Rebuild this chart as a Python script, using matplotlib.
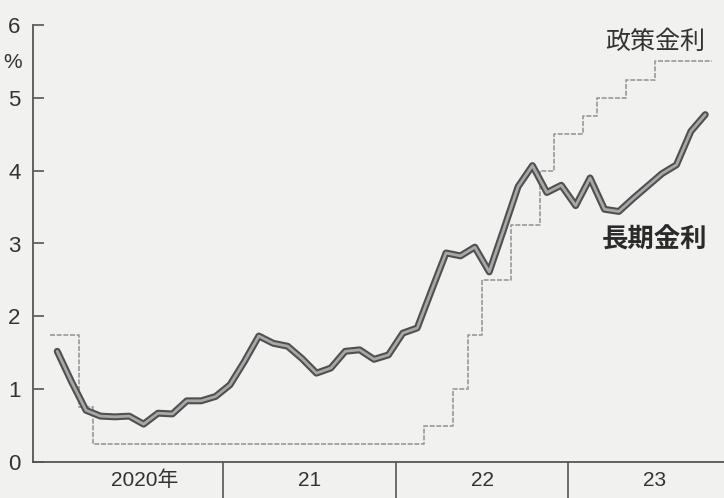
import numpy as np
import matplotlib.pyplot as plt

plt.rcParams['font.family'] = ['Liberation Sans', 'Noto Sans CJK JP', 'DejaVu Sans']

# months from Jan 2020 (index 0) to Oct 2023 (index 45)
months = np.arange(46)

# policy rate, monthly (upper bound, %)
policy_rate = [1.75, 1.75, 0.75] + [0.25] * 23 + [0.5, 0.5, 1.0, 1.75, 2.5, 2.5,
               3.25, 3.25, 4.0, 4.5, 4.5, 4.75, 5.0, 5.0, 5.25, 5.25, 5.5, 5.5, 5.5, 5.5]

# long-term rate (10y, %)
long_rate = [1.52, 1.10, 0.71, 0.63, 0.62, 0.63, 0.52, 0.67, 0.66, 0.84, 0.84, 0.90,
             1.06, 1.38, 1.73, 1.63, 1.59, 1.42, 1.22, 1.29, 1.52, 1.54, 1.41, 1.47,
             1.77, 1.84, 2.36, 2.87, 2.83, 2.95, 2.61, 3.19, 3.78, 4.07, 3.70, 3.80,
             3.52, 3.90, 3.47, 3.44, 3.62, 3.79, 3.96, 4.08, 4.54, 4.77]

year_ticks = [12, 24, 36]
year_labels = ['2020年', '21', '22', '23']
year_label_x = [6.6, 18, 30, 42]

fig = plt.figure(figsize=(7.24, 4.98), dpi=100)
fig.patch.set_facecolor('#f1f1ef')
ax = fig.add_axes([33 / 724, 36 / 498, 1 - 33 / 724, (462 - 25) / 498])
ax.set_facecolor('#f1f1ef')

# policy rate as a step line
px = list(months) + [46]
py = policy_rate + [policy_rate[-1]]
ax.step(px, py, where='post', color='#999999', lw=1.2, ls=(0, (3, 1)))

# long-term rate: dark outline with lighter core
lx = months + 0.5
ax.plot(lx, long_rate, color='#505050', lw=5, solid_joinstyle='round', solid_capstyle='round')
ax.plot(lx, long_rate, color='#a8a8a8', lw=2, solid_joinstyle='round', solid_capstyle='round')

ax.set_xlim(-1.18, 46.8)
ax.set_ylim(0, 6)

for s in ['top', 'right']:
    ax.spines[s].set_visible(False)
for s in ['left', 'bottom']:
    ax.spines[s].set_color('#555555')
    ax.spines[s].set_linewidth(1.3)

ax.set_yticks(range(7))
ax.set_yticklabels([str(i) for i in range(7)])
ax.tick_params(axis='y', direction='in', length=8, width=1.2, color='#555555',
               labelsize=16, labelcolor='#333333', pad=9)

ax.set_xticks(year_ticks)
ax.set_xticklabels([])
ax.tick_params(axis='x', direction='out', length=30, width=1.2, color='#555555')

for xv, lab in zip(year_label_x, year_labels):
    ax.text(xv, -0.25, lab, ha='center', va='center', fontsize=15, color='#333333',
            clip_on=False)

fig.text(13 / 724, 1 - 62 / 498, '%', ha='center', va='center', fontsize=15, color='#333333')

fig.text(655 / 724, 1 - 42 / 498, '政策金利', ha='center', va='center', fontsize=18,
         color='#333333', family=['Noto Sans CJK JP'])
fig.text(655 / 724, 1 - 240 / 498, '長期金利', ha='center', va='center', fontsize=19,
         color='#2a2a2a', fontweight='bold', family=['Noto Sans CJK JP'])

fig.savefig('out.png', dpi=100, facecolor=fig.get_facecolor())
